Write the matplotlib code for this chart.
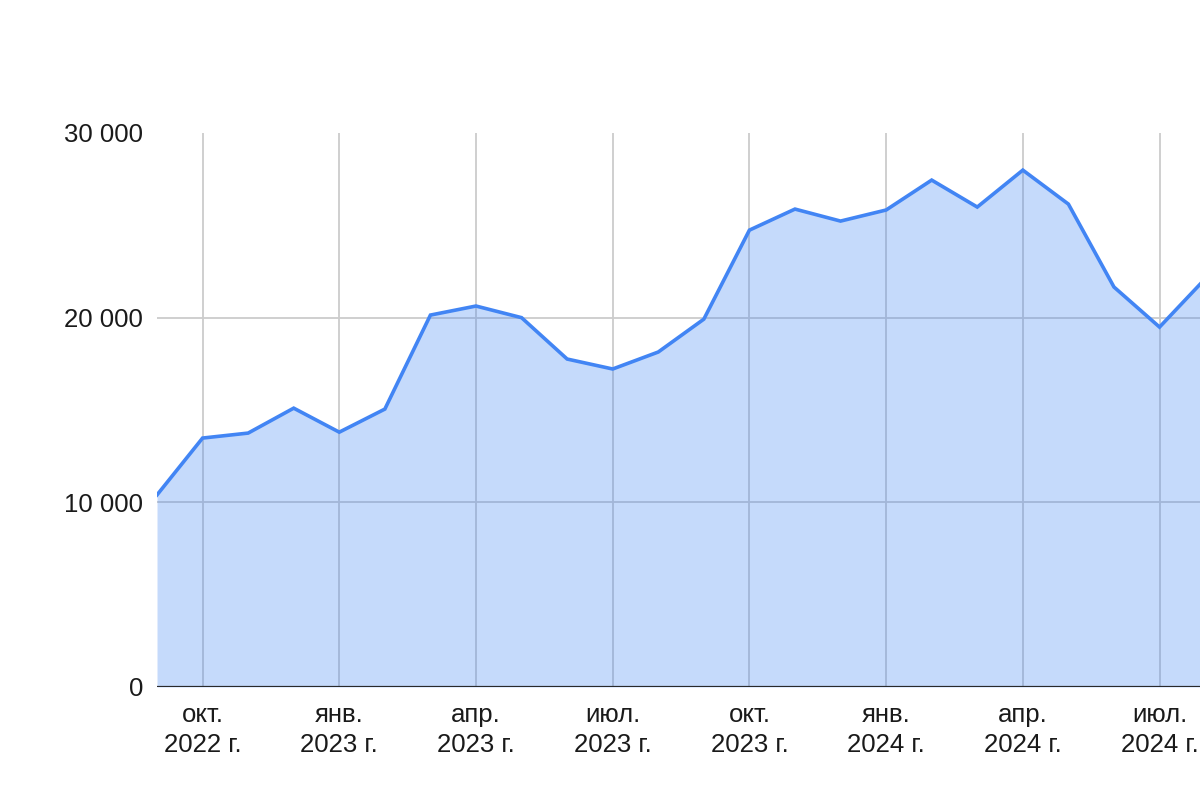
import numpy as np
import matplotlib.pyplot as plt

plt.rcParams['font.family'] = ['Liberation Sans', 'DejaVu Sans']

# monthly values, Sep 2022 .. Aug 2024
months = ['сен. 2022', 'окт. 2022', 'ноя. 2022', 'дек. 2022',
          'янв. 2023', 'фев. 2023', 'мар. 2023', 'апр. 2023',
          'май 2023', 'июн. 2023', 'июл. 2023', 'авг. 2023',
          'сен. 2023', 'окт. 2023', 'ноя. 2023', 'дек. 2023',
          'янв. 2024', 'фев. 2024', 'мар. 2024', 'апр. 2024',
          'май 2024', 'июн. 2024', 'июл. 2024', 'авг. 2024']
values = [10400, 13480, 13750, 15100,
          13800, 15050, 20140, 20630,
          20000, 17760, 17220, 18140,
          19920, 24740, 25880, 25230,
          25830, 27450, 25990, 27990,
          26150, 21660, 19490, 22100]

tick_idx = [1, 4, 7, 10, 13, 16, 19, 22]
tick_labels = ['окт.\n2022 г.', 'янв.\n2023 г.', 'апр.\n2023 г.', 'июл.\n2023 г.',
               'окт.\n2023 г.', 'янв.\n2024 г.', 'апр.\n2024 г.', 'июл.\n2024 г.']
y_ticks = [0, 10000, 20000, 30000]
y_labels = ['0', '10 000', '20 000', '30 000']

x = np.arange(len(values))
blue = '#4285f4'

fig = plt.figure(figsize=(12, 8), dpi=100)
# chart runs past the right edge of the picture
ax = fig.add_axes([157 / 1200, 113 / 800, 26 * 45.57 / 1200, 554 / 800])

for t in tick_idx:
    ax.axvline(t, color='#cccccc', lw=1.3, zorder=0)
for v in [10000, 20000]:
    ax.axhline(v, color='#cccccc', lw=1.3, zorder=0)

ax.fill_between(x, values, 0, color=blue, alpha=0.3, lw=0, zorder=1)
ax.plot(x, values, color=blue, lw=2.6, solid_joinstyle='miter', zorder=3)
ax.axhline(0, color='#2a2a2a', lw=1.6, zorder=4)

ax.set_xlim(0, 26)
ax.set_ylim(0, 30000)
ax.set_xticks(tick_idx)
ax.set_xticklabels(tick_labels, fontsize=18.5, color='#1a1a1a', linespacing=1.33)
ax.set_yticks(y_ticks)
ax.set_yticklabels(y_labels, fontsize=18.5, color='#1a1a1a')
ax.tick_params(length=0)
ax.tick_params(axis='x', pad=11.5)
ax.tick_params(axis='y', pad=10)
for s in ax.spines.values():
    s.set_visible(False)

fig.savefig('out.png', dpi=100)
